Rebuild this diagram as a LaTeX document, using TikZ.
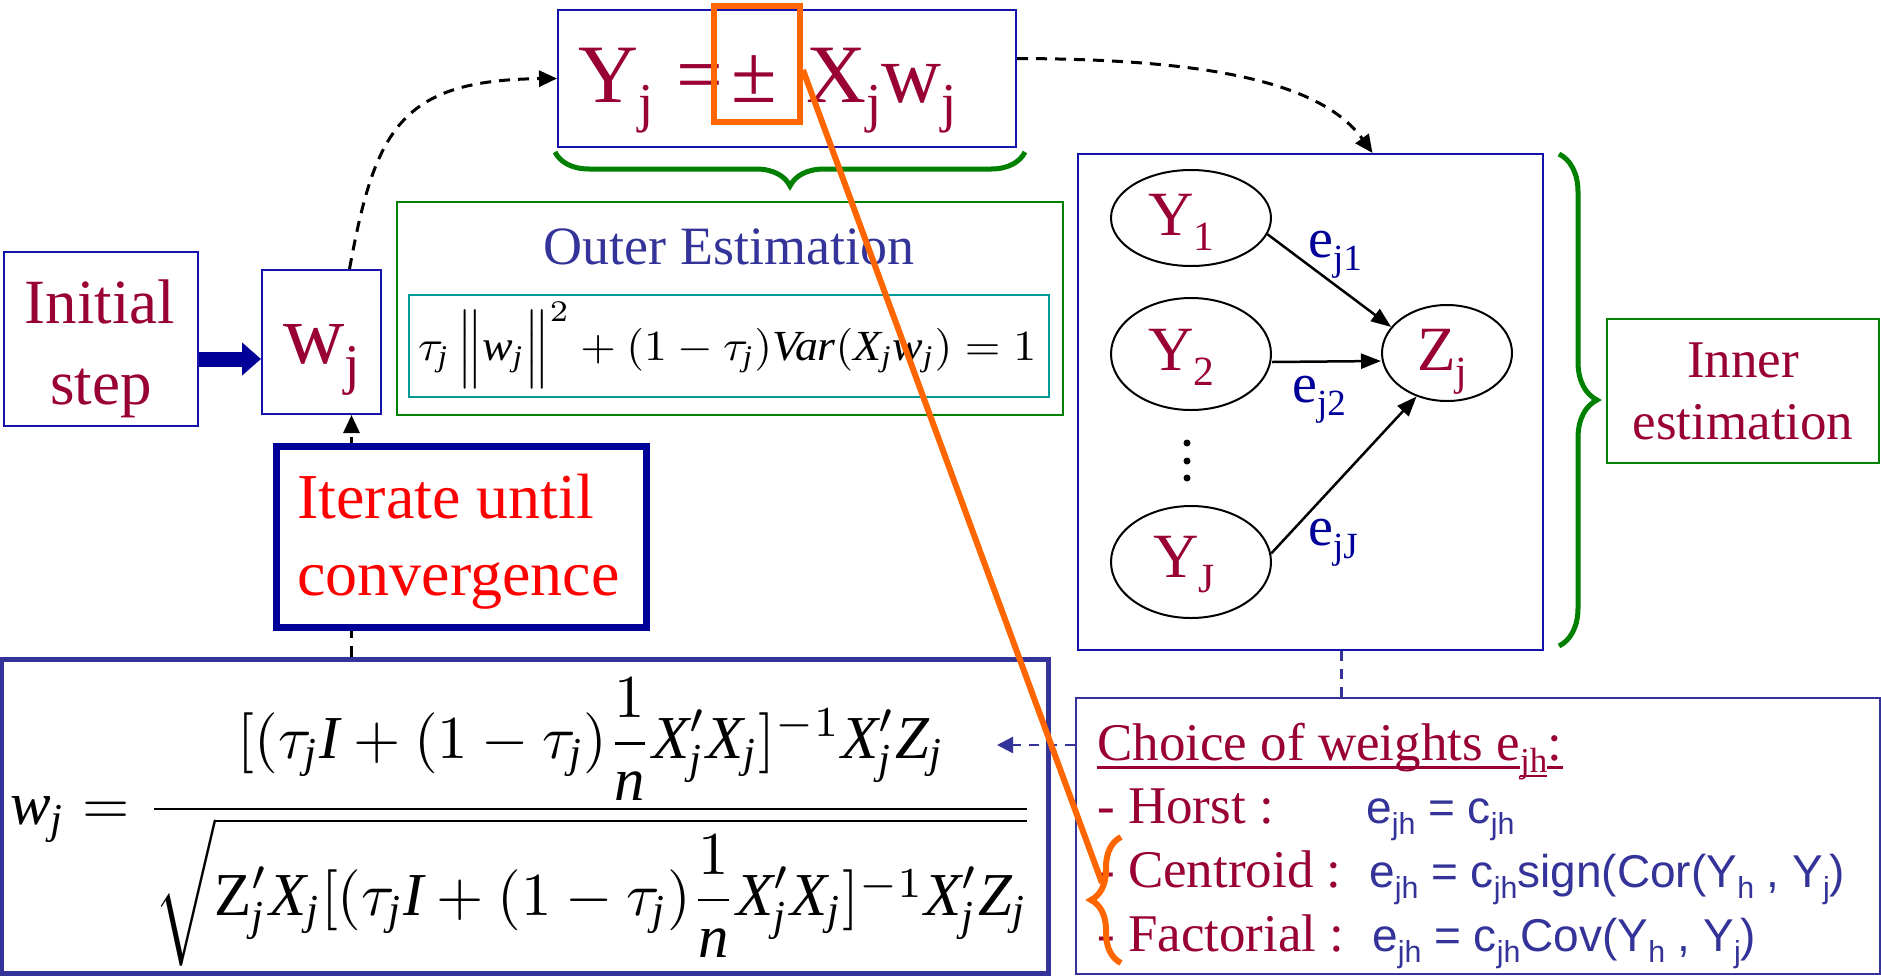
\documentclass[tikz,border=0pt]{standalone}
\usepackage{amsmath}
\usepackage{fontspec}
\setmainfont{Liberation Serif}
\newfontfamily\arialf{Liberation Sans}
\usepackage{graphicx}
\usetikzlibrary{shapes.geometric,arrows.meta,decorations.pathreplacing}
\definecolor{crim}{HTML}{990033}
\definecolor{boxb}{HTML}{1414AA}
\definecolor{navy}{HTML}{333399}
\definecolor{dblue}{HTML}{000099}
\definecolor{grn}{HTML}{008000}
\definecolor{teal2}{HTML}{009999}
\definecolor{orng}{HTML}{FF6600}
\newcommand\fsz[1]{\fontsize{#1}{#1}\selectfont}
\newcommand\mysub[1]{\raisebox{-0.24em}{\scalebox{0.66}{#1}}}
\newcommand\ti[1]{\textit{#1}}
\newcommand\sj{_{\textit{j}}}
\newcommand\mX{\textit{X}}
\begin{document}
\begin{tikzpicture}[x=1pt,y=-1pt,
  bbox/.style={draw=boxb,line width=2pt,inner sep=0pt},
  gbox/.style={draw=grn,line width=2pt,inner sep=0pt},
  txt/.style={inner sep=0pt,anchor=base west},
  ctxt/.style={inner sep=0pt,anchor=base},
  dsh/.style={black,line width=3pt,dash pattern=on 11pt off 8pt},
  tipA/.style={-{Triangle[length=18pt,width=16pt]}},
  arr/.style={black,line width=2.5pt,-{Triangle[length=20pt,width=15pt]}},
  ell/.style={ellipse,draw=black,line width=2pt,inner sep=0pt},
  brc/.style={grn,line width=5pt,decorate},
]
\useasboundingbox (0,0) rectangle (1881,975);

% ---------- boxes ----------
\node[bbox,minimum width=194pt,minimum height=174pt] (initbox) at (101,339) {};
\node[bbox,minimum width=119pt,minimum height=144pt] (wjbox) at (321.5,342) {};
\node[bbox,minimum width=458pt,minimum height=137pt] (Ybox) at (787,78.5) {};
\node[gbox,minimum width=666pt,minimum height=213pt] (outer) at (730,308.5) {};
\node[draw=teal2,line width=2pt,inner sep=0pt,minimum width=640pt,minimum height=102pt] (tealbox) at (729,346) {};
\node[bbox,minimum width=465pt,minimum height=496pt] (inner) at (1310.5,402) {};
\node[gbox,minimum width=272pt,minimum height=144pt] (innerest) at (1743,391) {};
\node[draw=navy,line width=2pt,inner sep=0pt,minimum width=804pt,minimum height=276pt] (choicebox) at (1478,836) {};
\node[draw=navy,line width=5pt,inner sep=0pt,minimum width=1047pt,minimum height=314pt] (formbox) at (524.5,816) {};

% ---------- texts ----------
\node[ctxt,crim,font=\fsz{63}] (init1) at (100,323) {Initial};
\node[ctxt,crim,font=\fsz{63}] (init2) at (101,404) {step};
\node[txt,crim,font=\fsz{85}] (wjt) at (283,363) {w\mysub{j}};

\node[txt,crim,font=\fsz{83}] (ylhs) at (578,102) {Y\mysub{j}};
\node[txt,crim,font=\fsz{83}] (yeq) at (676,102) {=};
\node[txt,crim,font=\fsz{83}] (ypm) at (731,102) {±};
\node[txt,crim,font=\fsz{83}] (yrhs) at (806,102) {X\mysub{j}w\mysub{j}};

\node[ctxt,navy,font=\fsz{54}] (outert) at (729,264) {Outer Estimation};
\node[inner sep=0pt,anchor=north west] (constr) at (418,302)
  {\resizebox*{618pt}{86pt}{$\tau\sj\,\Big\|\ti{w}\sj\Big\|^{2}+(1-\tau\sj)\ti{Var}(\mX\sj\ti{w}\sj)=1$}};

% inner model
\node[ell,minimum width=160pt,minimum height=96pt] (Y1) at (1191,218) {};
\node[ell,minimum width=160pt,minimum height=112pt] (Y2) at (1191,354) {};
\node[ell,minimum width=160pt,minimum height=112pt] (YJ) at (1191,562) {};
\node[ell,minimum width=130pt,minimum height=96pt] (Zj) at (1447,353) {};
\node[txt,crim,font=\fsz{63}] (y1t) at (1148,235) {Y\mysub{1}};
\node[txt,crim,font=\fsz{63}] (y2t) at (1148,370) {Y\mysub{2}};
\node[txt,crim,font=\fsz{63}] (yJt) at (1153,577) {Y\mysub{J}};
\node[txt,crim,font=\fsz{63}] (zjt) at (1417,370) {Z\mysub{j}};
\fill (1187,443) circle (3.5pt) (1187,461) circle (3.5pt) (1187,478) circle (3.5pt);
\draw[arr] (Y1.-12) -- (Zj.155);
\draw[arr] ([yshift=-8pt]Y2.east) -- ([yshift=-8pt]Zj.west);
\draw[arr] (YJ.6) -- (Zj.235);
\node[txt,dblue,font=\fsz{56}] (e1) at (1308,257) {e\mysub{j1}};
\node[txt,dblue,font=\fsz{56}] (e2) at (1292,402) {e\mysub{j2}};
\node[txt,dblue,font=\fsz{56}] (eJ) at (1308,545) {e\mysub{jJ}};

\node[ctxt,crim,font=\fsz{53}] (inn1) at (1743,377) {Inner};
\node[ctxt,crim,font=\fsz{53}] (inn2) at (1743,439) {estimation};

% choice box
\node[txt,crim,font=\fsz{53}] (ch1) at (1097,760) {Choice of weights e};
\node[txt,crim,font=\fsz{53}] (ch1s) at (ch1.base east) {\mysub{jh}};
\node[txt,crim,font=\fsz{53}] (ch1c) at (ch1s.base east) {:};
\draw[crim,line width=3pt] ([yshift=-7pt]ch1.base west) -- ([yshift=-7pt]ch1.base east);
\draw[crim,line width=2.5pt] ([yshift=-16pt]ch1s.base west) -- ([yshift=-16pt]ch1s.base east);
\draw[crim,line width=3pt] ([yshift=-7pt]ch1c.base west) -- ([yshift=-7pt]ch1c.base east);
\node[txt,crim,font=\fsz{53}] (ch2) at (1097,823) {- Horst :};
\node[txt,crim,font=\fsz{53}] (ch3) at (1097,887) {- Centroid :};
\node[txt,crim,font=\fsz{53}] (ch4) at (1097,951) {- Factorial :};
\node[txt,navy,font=\arialf\fsz{46}] (ch2e) at (1366,823) {e\mysub{jh} = c\mysub{jh}};
\node[txt,navy,font=\arialf\fsz{46}] (ch3e) at (1369,887) {e\mysub{jh} = c\mysub{jh}sign(Cor(Y\mysub{h} , Y\mysub{j})};
\node[txt,navy,font=\arialf\fsz{46}] (ch4e) at (1372,951) {e\mysub{jh} = c\mysub{jh}Cov(Y\mysub{h} , Y\mysub{j})};

% big formula
\node[inner sep=0pt,anchor=north west] (wform) at (10,678)
  {\resizebox*{1024pt}{288pt}{$\displaystyle \ti{w}\sj=\frac{[(\tau\sj\ti{I}+(1-\tau\sj)\dfrac{1}{\ti{n}}\mX^{\prime}\sj\mX\sj]^{-1}\mX^{\prime}\sj\ti{Z}\sj}{\sqrt{\textup{Z}^{\prime}\sj\mX\sj[(\tau\sj\ti{I}+(1-\tau\sj)\dfrac{1}{\ti{n}}\mX^{\prime}\sj\mX\sj]^{-1}\mX^{\prime}\sj\ti{Z}\sj}}$}};

% ---------- connectors ----------
\draw[dblue,line width=15pt,-{Triangle[length=19pt,width=32pt]}] ([yshift=-20pt]initbox.east) -- ([yshift=-20pt]initbox.east -| wjbox.west);
\draw[dsh,tipA] ([xshift=28pt]wjbox.north) .. controls (375,130) and (400,80) .. (Ybox.west);
\draw[dsh,tipA] ([yshift=20pt]Ybox.east) .. controls (1200,59) and (1320,80) .. ([xshift=62pt]inner.north);
\coordinate (itx) at ([xshift=30pt]wjbox.south);
\draw[dsh,tipA] (itx |- formbox.north) -- (itx);
\node[draw=dblue,fill=white,line width=7pt,inner sep=0pt,minimum width=370pt,minimum height=181pt] (iter) at (461.5,537) {};
\node[txt,red,font=\fsz{64}] (it1) at (297,518) {Iterate until};
\node[txt,red,font=\fsz{64}] (it2) at (297,595) {convergence};
\draw[navy,line width=2.5pt,dash pattern=on 10pt off 8pt] ([xshift=31pt]inner.south) -- ([xshift=31pt]inner.south |- choicebox.north);
\coordinate (arrtip) at (997,745);
\draw[navy,line width=2.5pt,dash pattern=on 10pt off 8pt,-{Triangle[length=16pt,width=16pt]}] (arrtip -| choicebox.west) -- (arrtip);

% braces
\draw[brc,decoration={brace,amplitude=34pt}] (1025,152) -- (555,152);
\draw[brc,decoration={brace,amplitude=38pt}] (1559,154) -- (1559,646);

% orange highlight
\node[draw=orng,line width=6pt,inner sep=0pt,minimum width=86pt,minimum height=116pt] (orbox) at (757,64) {};
\coordinate (obtip) at (1102,883);
\draw[orng,line width=6pt] ([yshift=-6pt]orbox.east) -- (obtip);
\draw[orng,line width=6pt,decorate,decoration={brace,amplitude=30pt}] (1121,963) -- (1121,837);
\end{tikzpicture}
\end{document}
